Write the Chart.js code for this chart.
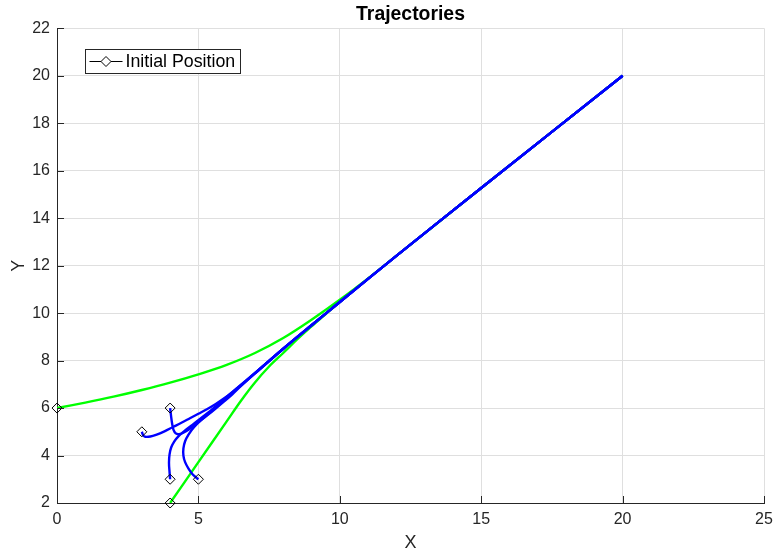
<!DOCTYPE html>
<html>
<head>
<meta charset="utf-8">
<title>Trajectories</title>
<script src="https://cdn.jsdelivr.net/npm/chart.js@4.4.1/dist/chart.umd.min.js"></script>
<style>
    html, body { margin: 0; padding: 0; background: #fff; }
    #wrap { width: 775px; height: 557px; }
</style>
</head>
<body>
<div id="wrap"><canvas id="trajChart" width="775" height="557"></canvas></div>
<script>
// axis ranges / ticks
const xRange = [0, 25];
const yRange = [2, 22];
const xStep = 5;
const yStep = 2;

// common approach path into the goal at (20, 20)
const tailX = [8, 9, 10, 12, 15, 20];
const tailY = [8.5, 9.49, 10.47, 12.41, 15.27, 20];

// green runs
const greenUpperX = [0, 1, 2, 3, 4, 5, 6, 7, 8, 9, 10, 11];
const greenUpperY = [6.0, 6.23, 6.48, 6.76, 7.07, 7.42, 7.82, 8.32, 8.95, 9.72, 10.56, 11.46];
const greenLowerX = [4, 5, 6, 6.5, 7, 7.5, 8, 8.5, 9];
const greenLowerY = [2, 3.72, 5.44, 6.3, 7.08, 7.75, 8.32, 8.9, 9.44];

// blue runs
const blueAX = [3, 3.05, 3.12, 3.3, 3.5, 3.8, 4.1, 4.4, 4.7, 5.0, 5.3, 5.6, 5.9, 6.2, 6.5, 7];
const blueAY = [5, 4.85, 4.79, 4.8, 4.87, 5.02, 5.2, 5.38, 5.57, 5.76, 5.95, 6.16, 6.4, 6.67, 6.96, 7.46];
const blueBX = [4, 4.03, 4.07, 4.12, 4.2, 4.3, 4.45, 4.7, 5.0, 5.3, 5.6, 5.9, 6.2, 6.5, 7];
const blueBY = [6, 5.7, 5.35, 5.08, 4.93, 4.9, 4.95, 5.13, 5.4, 5.68, 5.97, 6.27, 6.58, 6.92, 7.46];
const blueCX = [4, 3.98, 3.96, 3.98, 4.04, 4.15, 4.3, 4.5, 4.8, 5.1, 5.4, 5.7, 6.0, 6.5, 7];
const blueCY = [3, 3.3, 3.7, 4.05, 4.35, 4.6, 4.82, 5.03, 5.3, 5.58, 5.86, 6.16, 6.47, 6.98, 7.48];
const blueDX = [5, 4.8, 4.65, 4.53, 4.47, 4.47, 4.53, 4.65, 4.85, 5.1, 5.4, 5.7, 6.0, 6.5, 7];
const blueDY = [3, 3.2, 3.45, 3.72, 4.0, 4.3, 4.6, 4.88, 5.2, 5.5, 5.8, 6.1, 6.42, 6.95, 7.47];

// start points
const initX = [0, 4, 3, 4, 4, 5];
const initY = [6, 2, 5, 6, 3, 3];

const FONT = "'Liberation Sans', Arial, Helvetica, sans-serif";
const TEXT = '#262626';
const AXIS = '#262626';
const GRID = '#dfdfdf';
const GREEN = '#00ff00';
const BLUE = '#0000ff';

// head points followed by the shared path beyond the last head x
function buildPath(xs, ys) {
    const pts = xs.map((x, i) => ({ x: x, y: ys[i] }));
    const lastX = xs[xs.length - 1];
    tailX.forEach((x, i) => {
        if (x > lastX) pts.push({ x: x, y: tailY[i] });
    });
    return pts;
}

function lineSet(label, xs, ys, color) {
    return {
        label: label,
        data: buildPath(xs, ys),
        showLine: true,
        borderColor: color,
        backgroundColor: color,
        borderWidth: 2.4,
        pointRadius: 0,
        tension: 0.35
    };
}

const startSet = {
    label: 'Initial Position',
    data: initX.map((x, i) => ({ x: x, y: initY[i] })),
    showLine: false,
    pointStyle: 'rectRot',
    pointRadius: 5,
    pointBorderColor: '#000',
    pointBackgroundColor: 'rgba(0,0,0,0)',
    pointBorderWidth: 1,
    clip: false
};

// MATLAB-style ticks pointing into the plot
const innerTicks = {
    id: 'innerTicks',
    afterDraw(chart) {
        const { ctx, chartArea: a, scales: { x, y } } = chart;
        ctx.save();
        ctx.strokeStyle = AXIS;
        ctx.lineWidth = 1;
        ctx.beginPath();
        x.ticks.forEach(t => {
            const px = Math.round(x.getPixelForValue(t.value)) + 0.5;
            ctx.moveTo(px, a.bottom);
            ctx.lineTo(px, a.bottom - 7);
        });
        y.ticks.forEach(t => {
            const py = Math.round(y.getPixelForValue(t.value)) + 0.5;
            ctx.moveTo(a.left, py);
            ctx.lineTo(a.left + 7, py);
        });
        ctx.stroke();
        ctx.restore();
    }
};

// boxed legend inside the upper left corner
const boxLegend = {
    id: 'boxLegend',
    afterDraw(chart) {
        const { ctx, chartArea: a } = chart;
        const left = Math.round(a.left + 28) + 0.5;
        const top = Math.round(a.top + 21) + 0.5;
        const w = 155;
        const h = 24;
        const midY = top + h / 2;
        ctx.save();
        ctx.fillStyle = '#fff';
        ctx.fillRect(left, top, w, h);
        ctx.strokeStyle = AXIS;
        ctx.lineWidth = 1;
        ctx.strokeRect(left, top, w, h);

        ctx.strokeStyle = '#000';
        ctx.beginPath();
        ctx.moveTo(left + 4, midY);
        ctx.lineTo(left + 37, midY);
        ctx.stroke();

        const cx = left + 20.5;
        const r = 5;
        ctx.fillStyle = '#fff';
        ctx.beginPath();
        ctx.moveTo(cx - r, midY);
        ctx.lineTo(cx, midY - r);
        ctx.lineTo(cx + r, midY);
        ctx.lineTo(cx, midY + r);
        ctx.closePath();
        ctx.fill();
        ctx.stroke();

        ctx.fillStyle = '#000';
        ctx.font = '17.8px ' + FONT;
        ctx.textBaseline = 'middle';
        ctx.textAlign = 'left';
        ctx.fillText(startSet.label, left + 40, midY + 1);
        ctx.restore();
    }
};

const ctx = document.getElementById('trajChart').getContext('2d');

const trajChart = new Chart(ctx, {
    type: 'scatter',
    data: {
        datasets: [
            startSet,
            lineSet('Blue A', blueAX, blueAY, BLUE),
            lineSet('Blue B', blueBX, blueBY, BLUE),
            lineSet('Blue C', blueCX, blueCY, BLUE),
            lineSet('Blue D', blueDX, blueDY, BLUE),
            lineSet('Green upper', greenUpperX, greenUpperY, GREEN),
            lineSet('Green lower', greenLowerX, greenLowerY, GREEN)
        ]
    },
    options: {
        responsive: false,
        animation: false,
        devicePixelRatio: 1,
        layout: { padding: { left: 0, right: 11, top: 0, bottom: 0 } },
        plugins: {
            legend: { display: false },
            tooltip: { enabled: false },
            title: {
                display: true,
                text: 'Trajectories',
                fullSize: false,
                color: '#000',
                font: { family: FONT, size: 19.4, weight: 'bold' },
                padding: { top: 3, bottom: 2 }
            }
        },
        scales: {
            x: {
                type: 'linear',
                min: xRange[0],
                max: xRange[1],
                ticks: {
                    stepSize: xStep,
                    color: TEXT,
                    font: { family: FONT, size: 16 },
                    padding: 7,
                    maxRotation: 0
                },
                grid: { color: GRID, drawTicks: false },
                border: { display: true, color: AXIS, width: 1 },
                title: {
                    display: true,
                    text: 'X',
                    color: TEXT,
                    font: { family: FONT, size: 18 },
                    padding: { top: 0, bottom: 3 }
                },
                afterFit: s => {
                    s.height = 54;
                    s.paddingLeft = 0;
                    s.paddingRight = 0;
                }
            },
            y: {
                type: 'linear',
                min: yRange[0],
                max: yRange[1],
                ticks: {
                    stepSize: yStep,
                    color: TEXT,
                    font: { family: FONT, size: 16 },
                    padding: 7
                },
                grid: { color: GRID, drawTicks: false },
                border: { display: true, color: AXIS, width: 1 },
                title: {
                    display: true,
                    text: 'Y',
                    color: TEXT,
                    font: { family: FONT, size: 18 },
                    padding: { top: 8, bottom: 0 }
                },
                afterFit: s => {
                    s.width = 57;
                    s.paddingTop = 0;
                    s.paddingBottom = 0;
                }
            }
        }
    },
    plugins: [innerTicks, boxLegend]
});
</script>
</body>
</html>
